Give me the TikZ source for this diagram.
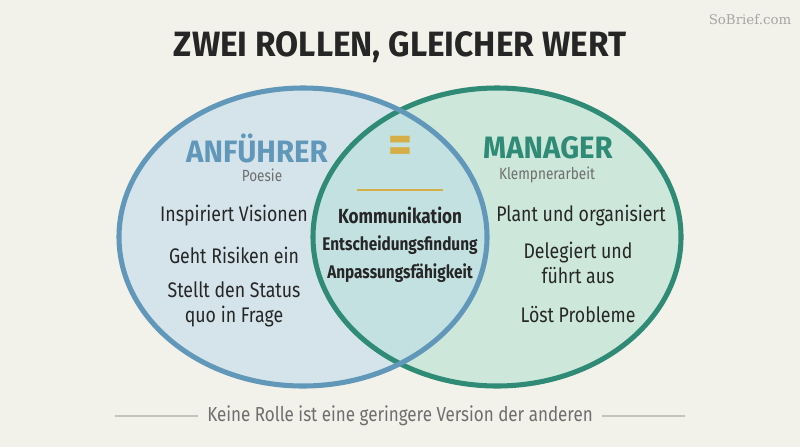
\documentclass[tikz,border=0pt]{standalone}
\usepackage{fontspec}
\setmainfont{Fira Sans}[FakeStretch=0.84]
\newfontfamily\headfont{Fira Sans}[FakeStretch=0.95]
\newfontfamily\markfont{DejaVu Serif}
\usetikzlibrary{positioning}
\definecolor{paper}{HTML}{F2F1EA}
\definecolor{leaderc}{HTML}{6198BA}
\definecolor{leaderfill}{HTML}{D4E4EA}
\definecolor{managerc}{HTML}{2F8B76}
\definecolor{managerfill}{HTML}{CDE7DB}
\definecolor{overlap}{HTML}{C3E1E0}
\definecolor{gold}{HTML}{D6AE48}
\definecolor{ink}{HTML}{262626}
\definecolor{muted}{HTML}{6E6E6E}
\definecolor{rule}{HTML}{C4C4BC}

\begin{document}
\begin{tikzpicture}[x=0.025cm,y=-0.025cm,
  item/.style={font=\fontsize{15}{18}\selectfont,text=ink,align=center,inner sep=0pt},
  shared/.style={font=\fontsize{13}{16}\selectfont\bfseries,text=ink,inner sep=0pt},
  role/.style={font=\headfont\fontsize{22}{24}\selectfont\bfseries,inner sep=0pt},
  tag/.style={font=\fontsize{11.5}{14}\selectfont,text=muted,inner sep=0pt}]
  \fill[paper] (0,0) rectangle (800,447);

  % Two ellipses
  \fill[leaderfill] (303,237) ellipse [x radius=184, y radius=149];
  \fill[managerfill] (497,237) ellipse [x radius=184, y radius=149];
  \begin{scope}
    \clip (303,237) ellipse [x radius=184, y radius=149];
    \fill[overlap] (497,237) ellipse [x radius=184, y radius=149];
  \end{scope}
  \draw[managerc,line width=3.6pt] (497,237) ellipse [x radius=184, y radius=149];
  \draw[leaderc,line width=3.6pt] (303,237) ellipse [x radius=184, y radius=149];

  % Title and watermark
  \node[font=\headfont\fontsize{25}{28}\selectfont\bfseries,text=ink,inner sep=0pt] (title) at (400,47) {ZWEI ROLLEN, GLEICHER WERT};
  \node[font=\markfont\fontsize{9.5}{11}\selectfont,text=black!35,inner sep=0pt] (mark) at (750,20) {SoBrief.com};

  % Leader side
  \node[role,text=leaderc] (lead) at (257,148) {ANFÜHRER};
  \node[tag] (poesie) at (262,175) {Poesie};
  \node[item] (l1) at (234,216) {Inspiriert Visionen};
  \node[item] (l2) at (234,255) {Geht Risiken ein};
  \node[item] (l3) at (234,304) {Stellt den Status\\quo in Frage};

  % Manager side
  \node[role,text=managerc] (mgr) at (548,148) {MANAGER};
  \node[tag] (klemp) at (547,175) {Klempnerarbeit};
  \node[item] (r1) at (581,216) {Plant und organisiert};
  \node[item] (r2) at (578,263) {Delegiert und\\führt aus};
  \node[item] (r3) at (578,315) {Löst Probleme};

  % Shared ground
  \node[font=\fontsize{39}{39}\selectfont\bfseries,text=gold,inner sep=0pt] (eq) at (400,150) {=};
  \coordinate (gl) at (357,190);
  \coordinate (gr) at (443,190);
  \draw[gold,line width=1.5pt] (gl) -- (gr);
  \node[shared,font=\fontsize{14.5}{17}\selectfont\bfseries] (s1) at (400,215) {Kommunikation};
  \node[shared] (s2) at (400,245) {Entscheidungsfindung};
  \node[shared] (s3) at (400,273) {Anpassungsfähigkeit};

  % Footer
  \node[font=\fontsize{14.4}{17}\selectfont,text=muted,inner sep=0pt] (foot) at (400,416) {Keine Rolle ist eine geringere Version der anderen};
  \coordinate (fl) at (115,416);
  \coordinate (fr) at (685,416);
  \draw[rule,line width=0.8pt] (fl) -- ([xshift=-9*0.025cm]foot.west);
  \draw[rule,line width=0.8pt] ([xshift=9*0.025cm]foot.east) -- (fr);
\end{tikzpicture}
\end{document}
